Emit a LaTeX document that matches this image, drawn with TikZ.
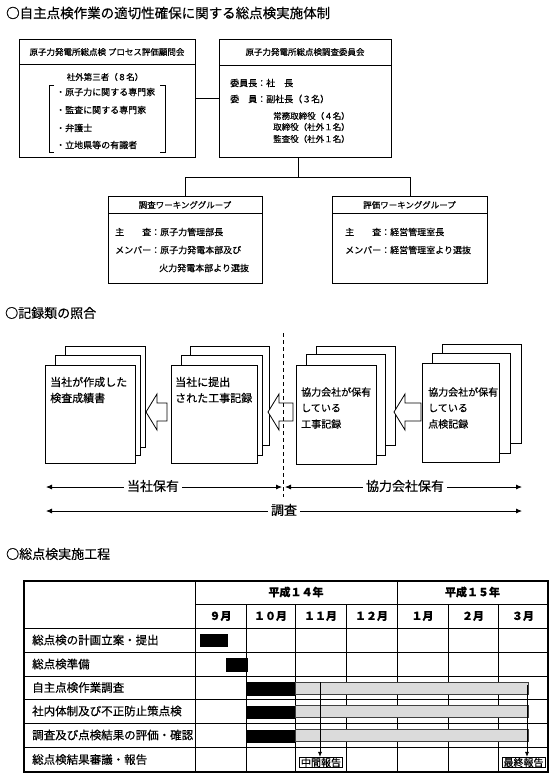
\documentclass[tikz,border=0pt]{standalone}
\usepackage{fontspec}
\setmainfont{Noto Sans CJK JP}[FakeBold=0.4]
\usetikzlibrary{arrows.meta}
\newcommand{\blockarrow}[3]{% tip x, tip y, shaft length
  \draw[line width=0.8pt, fill=white, line join=miter] (#1,#2) -- ++(11,-18) -- ++(0,9) -- ++(#3,0) -- ++(0,18) -- ++(-#3,0) -- ++(0,9) -- cycle;}
\begin{document}
\begin{tikzpicture}[x=1pt,y=-1pt,
  orgbox/.style={draw, line width=0.9pt, anchor=north west, inner sep=0pt},
  ttl/.style={inner sep=0pt, anchor=west, font=\fontsize{13}{14}\selectfont},
  hdr/.style={inner sep=0pt, font=\fontsize{8.5}{10}\selectfont},
  txt/.style={inner sep=0pt, anchor=west, font=\fontsize{9}{10}\selectfont},
  stxt/.style={inner sep=0pt, anchor=west, font=\fontsize{8.5}{10}\selectfont},
  page/.style={draw, line width=0.8pt, fill=white},
  pagenode/.style={page, anchor=north west, inner sep=0pt},
  dtxt/.style={inner sep=0pt, anchor=west, font=\fontsize{11}{12}\selectfont},
  dtxts/.style={inner sep=0pt, anchor=west, font=\fontsize{10}{11}\selectfont},
  span/.style={line width=0.8pt, {Latex[length=6pt,width=5pt]}-{Latex[length=6pt,width=5pt]}},
  spanlbl/.style={fill=white, inner xsep=3pt, inner ysep=1pt, font=\fontsize{13}{14}\selectfont},
  grid/.style={line width=0.7pt},
  rowlbl/.style={inner sep=0pt, anchor=west, font=\fontsize{11.5}{12}\selectfont},
  colhdr/.style={inner sep=0pt, font=\bfseries\fontsize{11}{12}\selectfont},
  blackbar/.style={fill=black, draw=black},
  graybar/.style={fill=gray!28, draw=black!75, line width=0.6pt},
  mstone/.style={draw, line width=0.8pt, inner xsep=1.5pt, inner ysep=0.5pt, font=\fontsize{10}{10}\selectfont},
  conn/.style={line width=0.9pt}
]
\useasboundingbox (0,0) rectangle (555,781);

% ---------------- Section 1 ----------------
\node[ttl, font=\fontsize{13.5}{14}\selectfont] (t1) at (6,13) {○自主点検作業の適切性確保に関する総点検実施体制};

\node[orgbox, minimum width=176pt, minimum height=118pt] (adv) at (19,39) {};
\draw[conn] ([yshift=-25pt]adv.north west) -- ([yshift=-25pt]adv.north east);
\node[hdr] (advh) at (107,52) {原子力発電所総点検 プロセス評価顧問会};
\node[hdr, font=\fontsize{8.5}{10}\selectfont] (advs) at (105,77) {社外第三者（８名）};
\node[txt] (a1) at (56,92) {・原子力に関する専門家};
\node[txt] (a2) at (56,110) {・監査に関する専門家};
\node[txt] (a3) at (56,128) {・弁護士};
\node[txt] (a4) at (56,145) {・立地県等の有識者};
\draw[line width=0.8pt] (54,85) -- (49,85) -- (49,152) -- (54,152);
\draw[line width=0.8pt] (160,85) -- (165,85) -- (165,152) -- (160,152);

\node[orgbox, minimum width=172pt, minimum height=118pt] (com) at (219,39) {};
\draw[conn] ([yshift=-26pt]com.north west) -- ([yshift=-26pt]com.north east);
\node[hdr] (comh) at (305,52) {原子力発電所総点検調査委員会};
\node[txt] (c1) at (230,83) {委員長：社　長};
\node[txt] (c2) at (230,99) {委　員：副社長（３名）};
\node[stxt] (c3) at (273,116) {常務取締役（４名）};
\node[stxt] (c4) at (273,127) {取締役（社外１名）};
\node[stxt] (c5) at (273,139) {監査役（社外１名）};

\draw[conn] (adv.east) -- (com.west);

\node[orgbox, minimum width=154pt, minimum height=87pt] (wg1) at (108,196) {};
\draw[conn] ([yshift=-17pt]wg1.north west) -- ([yshift=-17pt]wg1.north east);
\node[hdr] (wg1h) at (185,205) {調査ワーキンググループ};
\node[txt] (w11) at (115,232) {主　　査：原子力管理部長};
\node[txt] (w12) at (115,250) {メンバー：原子力発電本部及び};
\node[txt] (w13) at (159,268) {火力発電本部より選抜};

\node[orgbox, minimum width=155pt, minimum height=87pt] (wg2) at (332,196) {};
\draw[conn] ([yshift=-17pt]wg2.north west) -- ([yshift=-17pt]wg2.north east);
\node[hdr] (wg2h) at (409.5,205) {評価ワーキンググループ};
\node[txt] (w21) at (345,232) {主　　査：経営管理室長};
\node[txt] (w22) at (345,250) {メンバー：経営管理室より選抜};

\draw[conn] ([xshift=-7pt]com.south) -- ++(0,20) coordinate (j);
\draw[conn] (wg1.north) |- (j) -| (wg2.north);

% ---------------- Section 2 ----------------
\node[ttl] (t2) at (5,313) {○記録類の照合};

% doc stack 1
\draw[page] (65,346) rectangle (145,447);
\draw[page] (55,355) rectangle (140,455);
\node[pagenode, minimum width=90pt, minimum height=98pt] (d1) at (45,365) {};
\node[dtxt] (d1a) at (50,382) {当社が作成した};
\node[dtxt] (d1b) at (50,398) {検査成績書};

% doc stack 2
\draw[page] (190,346) rectangle (269,445);
\draw[page] (181,355) rectangle (262,455);
\node[pagenode, minimum width=86pt, minimum height=98pt] (d2) at (171,365) {};
\node[dtxt] (d2a) at (175,382) {当社に提出};
\node[dtxt] (d2b) at (175,398) {された工事記録};

% doc stack 3
\draw[page] (316,346) rectangle (395,445);
\draw[page] (306,354) rectangle (385,455);
\node[pagenode, minimum width=80pt, minimum height=99pt] (d3) at (296,365) {};
\node[dtxts] (d3a) at (301,392) {協力会社が保有};
\node[dtxts] (d3b) at (301,408) {している};
\node[dtxts] (d3c) at (301,424) {工事記録};

% doc stack 4
\draw[page] (442,344) rectangle (521,443);
\draw[page] (432,353) rectangle (510,453);
\node[pagenode, minimum width=77pt, minimum height=99pt] (d4) at (422,363) {};
\node[dtxts] (d4a) at (428,392) {協力会社が保有};
\node[dtxts] (d4b) at (428,408) {している};
\node[dtxts] (d4c) at (428,424) {点検記録};

% block arrows
\blockarrow{146}{412}{10}
\blockarrow{268}{412}{14}
\blockarrow{394}{412}{16}

% dashed divider
\coordinate (dtop) at (283,333);
\coordinate (dbot) at (283,497);
\draw[line width=0.8pt, dash pattern=on 4pt off 3pt] (dtop) -- (dbot);

% span arrows
\coordinate (s1l) at (46,487);
\coordinate (s1r) at (282,487);
\coordinate (s2l) at (285,487);
\coordinate (s2r) at (522,487);
\coordinate (s3l) at (46,511);
\coordinate (s3r) at (522,511);
\draw[span] (s1l) -- (s1r);
\node[spanlbl] (l1) at (153,486) {当社保有};
\draw[span] (s2l) -- (s2r);
\node[spanlbl] (l2) at (405,486) {協力会社保有};
\draw[span] (s3l) -- (s3r);
\node[spanlbl] (l3) at (284,510) {調査};

% ---------------- Section 3 ----------------
\node[ttl] (t3) at (6,554) {○総点検実施工程};

% grid
\foreach \yy in {628,652,676,699,723,747} \draw[grid] (24,\yy) -- (548,\yy);
\draw[grid] (195,604) -- (548,604);
\draw[grid] (195,581) -- (195,772);
\draw[grid] (397,581) -- (397,772);
\foreach \xx in {246,295,346,448,498} \draw[grid] (\xx,604) -- (\xx,772);
\draw[line width=1.1pt] (24,581) rectangle (548,772);

% headers
\node[colhdr] (y14) at (296,592) {平成１４年};
\node[colhdr] (y15) at (472.5,592) {平成１５年};
\node[colhdr] (m9) at (220.5,616) {９月};
\node[colhdr] (m10) at (270.5,616) {１０月};
\node[colhdr] (m11) at (320.5,616) {１１月};
\node[colhdr] (m12) at (371.5,616) {１２月};
\node[colhdr] (m1) at (422.5,616) {１月};
\node[colhdr] (m2) at (473,616) {２月};
\node[colhdr] (m3) at (523,616) {３月};

% row labels
\node[rowlbl] (r1) at (32,640) {総点検の計画立案・提出};
\node[rowlbl] (r2) at (32,664) {総点検準備};
\node[rowlbl] (r3) at (32,687.5) {自主点検作業調査};
\node[rowlbl] (r4) at (32,711) {社内体制及び不正防止策点検};
\node[rowlbl] (r5) at (32,735) {調査及び点検結果の評価・確認};
\node[rowlbl] (r6) at (32,759.5) {総点検結果審議・報告};

% bars
\draw[blackbar] (200,634) rectangle (227,646);
\draw[blackbar] (226,658) rectangle (247,671);
\draw[blackbar] (247,682) rectangle (295,695);
\draw[graybar] (295,682) rectangle (528,694);
\draw[blackbar] (247,706) rectangle (295,718);
\draw[graybar] (295,705) rectangle (528,717);
\draw[blackbar] (247,730) rectangle (295,742);
\draw[graybar] (295,729) rectangle (528,741);

% milestones
\node[mstone] (mid) at (321,762.5) {中間報告};
\node[mstone] (fin) at (523.5,762.5) {最終報告};
\coordinate (ms1) at (320,682);
\coordinate (ms2) at (527,685);
\draw[line width=0.8pt, -{Latex[length=5pt,width=4pt]}] (ms1) -- (ms1 |- mid.north);
\draw[line width=0.8pt, -{Latex[length=5pt,width=4pt]}] (ms2) -- (ms2 |- fin.north);
\end{tikzpicture}
\end{document}
